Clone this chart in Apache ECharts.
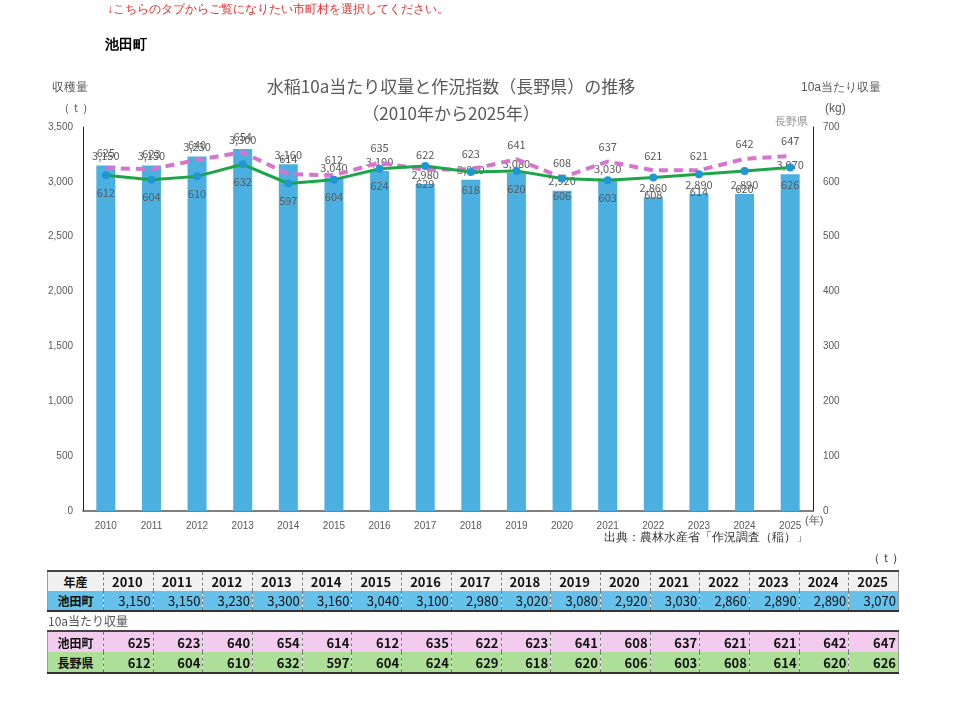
<!DOCTYPE html>
<html>
<head>
<meta charset="utf-8">
<script src="https://cdn.jsdelivr.net/npm/echarts@6/dist/echarts.min.js"></script>
<style>
body{margin:0;background:#fff;font-family:"Noto Sans CJK JP",sans-serif;}
#main{position:absolute;left:0;top:0;width:960px;height:701px;}
#hyo{position:absolute;left:0;top:0;width:960px;height:701px;pointer-events:none;}
table{position:absolute;left:47px;width:852px;border-collapse:collapse;table-layout:fixed;font-family:"Liberation Sans Narrow","Noto Sans CJK JP",sans-serif;}
td{padding:0 2px 0 0;border-left:1px dashed #777;text-align:right;font-size:13px;color:#111;overflow:hidden;white-space:nowrap;}
td.h{text-align:center;border-left:none;font-family:"Noto Sans CJK JP";font-weight:bold;font-size:12px;padding:0;}
.kome{position:absolute;font-size:12px;color:#555;}
</style>
</head>
<body>
<div id="main"></div>
<div id="hyo"></div>
<script>
// データ
var nendo=['2010','2011','2012','2013','2014','2015','2016','2017','2018','2019','2020','2021','2022','2023','2024','2025'];
var shukaku=[3150,3150,3230,3300,3160,3040,3100,2980,3020,3080,2920,3030,2860,2890,2890,3070];
var ikeda10a=[625,623,640,654,614,612,635,622,623,641,608,637,621,621,642,647];
var nagano10a=[612,604,610,632,597,604,624,629,618,620,606,603,608,614,620,626];

function kanma(v){
	return v.toString().replace(/\B(?=(\d{3})+(?!\d))/g,',');
}

var myChart=echarts.init(document.getElementById('main'));
var gray='#595959';
var option={
	animation:false,
	textStyle:{fontFamily:'"Noto Sans CJK JP",sans-serif'},
	title:{
		text:'水稲10a当たり収量と作況指数（長野県）の推移\n（2010年から2025年）',
		left:446,top:68,textAlign:'center',
		textStyle:{fontSize:17,fontWeight:'normal',color:gray,lineHeight:27}
	},
	grid:{left:83,right:147,top:127,bottom:190},
	graphic:[
		{type:'text',left:107,top:4,style:{text:'↓こちらのタブからご覧になりたい市町村を選択してください。',fill:'#e8322f',fontSize:12}},
		{type:'text',left:105,top:38,style:{text:'池田町',fill:'#000',fontSize:14,fontWeight:'bold'}},
		{type:'text',left:52,top:82,style:{text:'収穫量',fill:gray,fontSize:12}},
		{type:'text',left:58,top:103,style:{text:'（ｔ）',fill:gray,fontSize:12}},
		{type:'text',left:801,top:82,style:{text:'10a当たり収量',fill:gray,fontSize:12}},
		{type:'text',left:825,top:103,style:{text:'(kg)',fill:gray,fontSize:12}},
		{type:'text',left:775,top:116,style:{text:'長野県',fill:'#8c8c8c',fontSize:11}},
		{type:'text',left:805,top:515,style:{text:'(年)',fill:gray,fontSize:11}},
		{type:'text',left:604,top:532,style:{text:'出典：農林水産省「作況調査（稲）」',fill:'#333',fontSize:12}},
		{type:'text',left:868,top:553,style:{text:'（ｔ）',fill:'#333',fontSize:12}}
	],
	xAxis:{
		type:'category',data:nendo,
		axisLine:{lineStyle:{color:'#555',width:1.5}},
		axisTick:{show:false},
		axisLabel:{color:gray,fontSize:10,margin:10,fontFamily:'"Liberation Sans Narrow",sans-serif'}
	},
	yAxis:[
		{type:'value',min:0,max:3500,interval:500,
			axisLine:{show:true,lineStyle:{color:'#222'}},
			splitLine:{show:false},
			axisLabel:{color:gray,fontSize:10,margin:10,formatter:function(v){return kanma(v);},fontFamily:'"Liberation Sans Narrow",sans-serif'}
		},
		{type:'value',min:0,max:700,interval:100,
			axisLine:{show:true,lineStyle:{color:'#222'}},
			splitLine:{show:false},
			axisLabel:{color:gray,fontSize:10,margin:10,fontFamily:'"Liberation Sans Narrow",sans-serif'}
		}
	],
	series:[
		{
			name:'収穫量',type:'bar',data:shukaku,barWidth:19,
			itemStyle:{color:'#4bb0e0'},
			label:{show:true,position:'top',distance:4,color:'#595959',fontSize:11,
				formatter:function(p){return kanma(p.value);}}
		},
		{
			name:'池田町',type:'line',yAxisIndex:1,data:ikeda10a,
			symbol:'circle',symbolSize:1,showSymbol:true,
			itemStyle:{color:'rgba(0,0,0,0)'},
			lineStyle:{color:'#d774d0',width:4,type:[9,6]},
			label:{show:true,position:'top',distance:9,color:'#595959',fontSize:11}
		},
		{
			name:'長野県',type:'line',yAxisIndex:1,data:nagano10a,
			symbol:'circle',symbolSize:8,
			itemStyle:{color:'#1f97d4'},
			lineStyle:{color:'#1ea54a',width:3},
			label:{show:true,position:'bottom',distance:8,color:'#595959',fontSize:11}
		}
	]
};
myChart.setOption(option);

// 表
function makeRow(title,vals,bg,fmt,bold,h){
	var tr='<tr style="background:'+bg+';height:'+h+'px">';
	tr+='<td class="h" style="width:55px">'+title+'</td>';
	for(var i=0;i<vals.length;i++){
		var al=bold=='c'?'center':'right';
		tr+='<td style="text-align:'+al+';font-weight:'+(bold?'bold':'normal')+'">'+(fmt?kanma(vals[i]):vals[i])+'</td>';
	}
	return tr+'</tr>';
}
var hyo=document.getElementById('hyo');
var waku='border-top:2px solid #444;border-bottom:2px solid #333;border-left:1px solid #999;border-right:1px solid #999';
var html='<table style="top:570px;'+waku+'">';
html+=makeRow('年産',nendo,'#f0f0f0',false,'c',20);
html+=makeRow('池田町',shukaku,'#66c2ea',true,false,16);
html+='</table>';
html+='<div class="kome" style="left:48px;top:612px">10a当たり収量</div>';
html+='<table style="top:630px;'+waku+'">';
html+=makeRow('池田町',ikeda10a,'#f2cbee',false,true,21);
html+=makeRow('長野県',nagano10a,'#addf98',false,true,21);
html+='</table>';
hyo.innerHTML=html;
</script>
</body>
</html>
